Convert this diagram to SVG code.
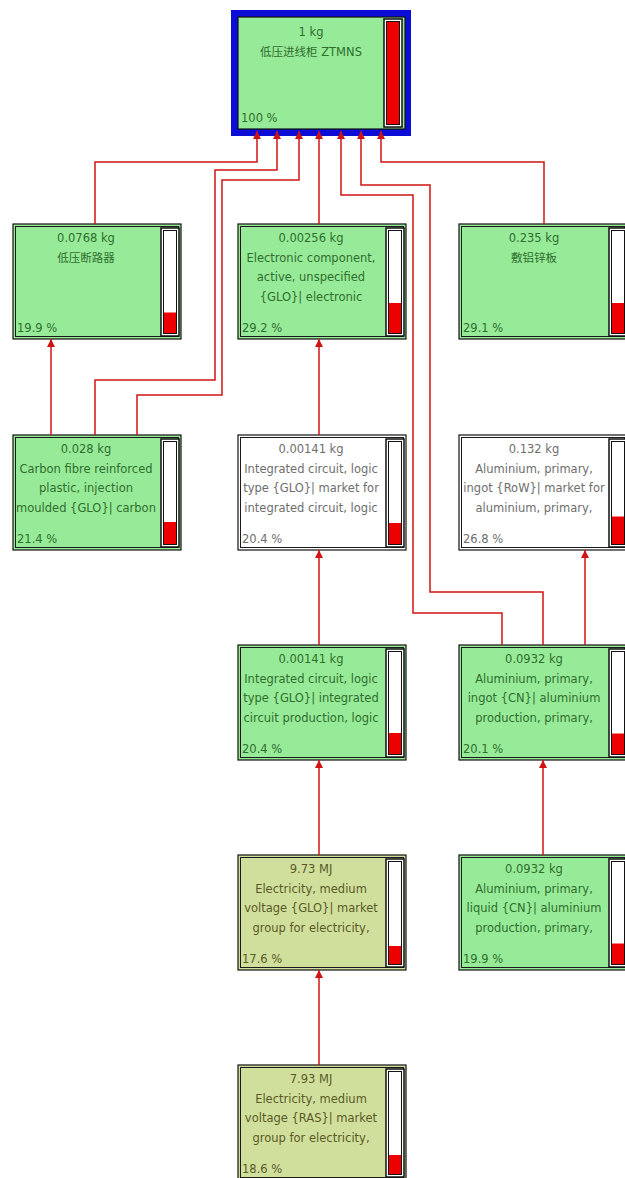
<svg xmlns="http://www.w3.org/2000/svg" width="625" height="1178" viewBox="0 0 625 1178">
<style>
.bg{fill:#ffffff}
.green{fill:#97ea97}
.white{fill:#ffffff}
.olive{fill:#d0df9c}
.frame{stroke:#111111;stroke-width:1.2}
.inner{fill:none;stroke:#1a1a1a;stroke-width:1}
.barO{fill:#ffffff;stroke:#111111;stroke-width:1.5}
.barI{fill:#ffffff;stroke:#111111;stroke-width:1}
.red{fill:#ee0000}
text{font-family:"DejaVu Sans","Noto Sans CJK SC",sans-serif;font-size:11.5px;text-anchor:middle}
.tg{fill:#2f6e2f}
.tw{fill:#6e6e6e}
.to{fill:#5a5a28}
.pct{text-anchor:start}
.conn{fill:none;stroke:#d01414;stroke-width:1.5}
</style>
<defs>
<marker id="arr" viewBox="0 0 8 8" refX="8" refY="4" markerWidth="8" markerHeight="8" markerUnits="userSpaceOnUse" orient="auto">
<path d="M0,0 L8,4 L0,8 z" fill="#d01414"/>
</marker>
<clipPath id="c1"><rect x="15" y="224" width="144" height="115"/></clipPath>
<clipPath id="c2"><rect x="240" y="224" width="144" height="115"/></clipPath>
<clipPath id="c3"><rect x="461" y="224" width="146" height="115"/></clipPath>
<clipPath id="c4"><rect x="15" y="435" width="144" height="115"/></clipPath>
<clipPath id="c5"><rect x="240" y="435" width="144" height="115"/></clipPath>
<clipPath id="c6"><rect x="461" y="435" width="146" height="115"/></clipPath>
<clipPath id="c7"><rect x="240" y="645" width="144" height="115"/></clipPath>
<clipPath id="c8"><rect x="461" y="645" width="146" height="115"/></clipPath>
<clipPath id="c9"><rect x="240" y="855" width="144" height="115"/></clipPath>
<clipPath id="c10"><rect x="461" y="855" width="146" height="115"/></clipPath>
<clipPath id="c11"><rect x="240" y="1065" width="144" height="115"/></clipPath>
</defs>
<rect class="bg" x="0" y="0" width="625" height="1178"/>

<g id="n0">
<rect x="231" y="10" width="180" height="126" fill="#0c0cd8"/>
<rect class="green frame" x="238" y="17" width="167" height="112"/>
<rect class="barO" x="384" y="19" width="18" height="108"/>
<rect class="red" x="386.5" y="21.5" width="13" height="103" stroke="#111" stroke-width="1"/>
<text class="tg" x="311" y="36">1 kg</text>
<text class="tg" x="311" y="56">低压进线柜 ZTMNS</text>
<text class="tg pct" x="241" y="122">100 %</text>
</g>

<g id="n1">
<rect class="green frame" x="13" y="224" width="168" height="115"/>
<rect class="inner" x="15.5" y="226.5" width="163" height="110"/>
<rect class="barO" x="161" y="228" width="18" height="108"/>
<rect class="barI" x="163.5" y="230.5" width="13" height="103"/>
<rect class="red" x="164" y="312.5" width="12" height="20.5"/>
<g clip-path="url(#c1)">
<text class="tg" x="86" y="242">0.0768 kg</text>
<text class="tg" x="86" y="262">低压断路器</text>
</g>
<text class="tg pct" x="17" y="332">19.9 %</text>
</g>

<g id="n2">
<rect class="green frame" x="238" y="224" width="168" height="115"/>
<rect class="inner" x="240.5" y="226.5" width="163" height="110"/>
<rect class="barO" x="386" y="228" width="18" height="108"/>
<rect class="barI" x="388.5" y="230.5" width="13" height="103"/>
<rect class="red" x="389" y="303" width="12" height="30"/>
<g clip-path="url(#c2)">
<text class="tg" x="311" y="242">0.00256 kg</text>
<text class="tg" x="311" y="262">Electronic component,</text>
<text class="tg" x="311" y="281">active, unspecified</text>
<text class="tg" x="311" y="300.5">{GLO}| electronic</text>
</g>
<text class="tg pct" x="242" y="332">29.2 %</text>
</g>

<g id="n3">
<rect class="green frame" x="459" y="224" width="168" height="115"/>
<rect class="inner" x="461.5" y="226.5" width="163" height="110"/>
<rect class="barO" x="609" y="228" width="18" height="108"/>
<rect class="barI" x="611.5" y="230.5" width="13" height="103"/>
<rect class="red" x="612" y="303" width="12" height="30"/>
<g clip-path="url(#c3)">
<text class="tg" x="534" y="242">0.235 kg</text>
<text class="tg" x="534" y="262">敷铝锌板</text>
</g>
<text class="tg pct" x="463" y="332">29.1 %</text>
</g>

<g id="n4">
<rect class="green frame" x="13" y="435" width="168" height="115"/>
<rect class="inner" x="15.5" y="437.5" width="163" height="110"/>
<rect class="barO" x="161" y="439" width="18" height="108"/>
<rect class="barI" x="163.5" y="441.5" width="13" height="103"/>
<rect class="red" x="164" y="522" width="12" height="22"/>
<g clip-path="url(#c4)">
<text class="tg" x="86" y="453">0.028 kg</text>
<text class="tg" x="86" y="472.5">Carbon fibre reinforced</text>
<text class="tg" x="86" y="492">plastic, injection</text>
<text class="tg" x="86" y="511.5">moulded {GLO}| carbon</text>
</g>
<text class="tg pct" x="17" y="543">21.4 %</text>
</g>

<g id="n5">
<rect class="white frame" x="238" y="435" width="168" height="115"/>
<rect class="inner" x="240.5" y="437.5" width="163" height="110"/>
<rect class="barO" x="386" y="439" width="18" height="108"/>
<rect class="barI" x="388.5" y="441.5" width="13" height="103"/>
<rect class="red" x="389" y="523" width="12" height="21"/>
<g clip-path="url(#c5)">
<text class="tw" x="311" y="453">0.00141 kg</text>
<text class="tw" x="311" y="472.5">Integrated circuit, logic</text>
<text class="tw" x="311" y="492">type {GLO}| market for</text>
<text class="tw" x="311" y="511.5">integrated circuit, logic</text>
</g>
<text class="tw pct" x="242" y="543">20.4 %</text>
</g>

<g id="n6">
<rect class="white frame" x="459" y="435" width="168" height="115"/>
<rect class="inner" x="461.5" y="437.5" width="163" height="110"/>
<rect class="barO" x="609" y="439" width="18" height="108"/>
<rect class="barI" x="611.5" y="441.5" width="13" height="103"/>
<rect class="red" x="612" y="516.5" width="12" height="27.5"/>
<g clip-path="url(#c6)">
<text class="tw" x="534" y="453">0.132 kg</text>
<text class="tw" x="534" y="472.5">Aluminium, primary,</text>
<text class="tw" x="534" y="492">ingot {RoW}| market for</text>
<text class="tw" x="534" y="511.5">aluminium, primary,</text>
</g>
<text class="tw pct" x="463" y="543">26.8 %</text>
</g>

<g id="n7">
<rect class="green frame" x="238" y="645" width="168" height="115"/>
<rect class="inner" x="240.5" y="647.5" width="163" height="110"/>
<rect class="barO" x="386" y="649" width="18" height="108"/>
<rect class="barI" x="388.5" y="651.5" width="13" height="103"/>
<rect class="red" x="389" y="733" width="12" height="21"/>
<g clip-path="url(#c7)">
<text class="tg" x="311" y="663">0.00141 kg</text>
<text class="tg" x="311" y="682.5">Integrated circuit, logic</text>
<text class="tg" x="311" y="702">type {GLO}| integrated</text>
<text class="tg" x="311" y="721.5">circuit production, logic</text>
</g>
<text class="tg pct" x="242" y="753">20.4 %</text>
</g>

<g id="n8">
<rect class="green frame" x="459" y="645" width="168" height="115"/>
<rect class="inner" x="461.5" y="647.5" width="163" height="110"/>
<rect class="barO" x="609" y="649" width="18" height="108"/>
<rect class="barI" x="611.5" y="651.5" width="13" height="103"/>
<rect class="red" x="612" y="733.5" width="12" height="20.5"/>
<g clip-path="url(#c8)">
<text class="tg" x="534" y="663">0.0932 kg</text>
<text class="tg" x="534" y="682.5">Aluminium, primary,</text>
<text class="tg" x="534" y="702">ingot {CN}| aluminium</text>
<text class="tg" x="534" y="721.5">production, primary,</text>
</g>
<text class="tg pct" x="463" y="753">20.1 %</text>
</g>

<g id="n9">
<rect class="olive frame" x="238" y="855" width="168" height="115"/>
<rect class="inner" x="240.5" y="857.5" width="163" height="110"/>
<rect class="barO" x="386" y="859" width="18" height="108"/>
<rect class="barI" x="388.5" y="861.5" width="13" height="103"/>
<rect class="red" x="389" y="946" width="12" height="18"/>
<g clip-path="url(#c9)">
<text class="to" x="311" y="873">9.73 MJ</text>
<text class="to" x="311" y="892.5">Electricity, medium</text>
<text class="to" x="311" y="912">voltage {GLO}| market</text>
<text class="to" x="311" y="931.5">group for electricity,</text>
</g>
<text class="to pct" x="242" y="963">17.6 %</text>
</g>

<g id="n10">
<rect class="green frame" x="459" y="855" width="168" height="115"/>
<rect class="inner" x="461.5" y="857.5" width="163" height="110"/>
<rect class="barO" x="609" y="859" width="18" height="108"/>
<rect class="barI" x="611.5" y="861.5" width="13" height="103"/>
<rect class="red" x="612" y="943.5" width="12" height="20.5"/>
<g clip-path="url(#c10)">
<text class="tg" x="534" y="873">0.0932 kg</text>
<text class="tg" x="534" y="892.5">Aluminium, primary,</text>
<text class="tg" x="534" y="912">liquid {CN}| aluminium</text>
<text class="tg" x="534" y="931.5">production, primary,</text>
</g>
<text class="tg pct" x="463" y="963">19.9 %</text>
</g>

<g id="n11">
<rect class="olive frame" x="238" y="1065" width="168" height="115"/>
<rect class="inner" x="240.5" y="1067.5" width="163" height="110"/>
<rect class="barO" x="386" y="1069" width="18" height="108"/>
<rect class="barI" x="388.5" y="1071.5" width="13" height="103"/>
<rect class="red" x="389" y="1155" width="12" height="19"/>
<g clip-path="url(#c11)">
<text class="to" x="311" y="1083">7.93 MJ</text>
<text class="to" x="311" y="1102.5">Electricity, medium</text>
<text class="to" x="311" y="1122">voltage {RAS}| market</text>
<text class="to" x="311" y="1141.5">group for electricity,</text>
</g>
<text class="to pct" x="242" y="1173">18.6 %</text>
</g>

<g id="connectors">
<path class="conn" marker-end="url(#arr)" d="M95,224 V162 H257 V131"/>
<path class="conn" marker-end="url(#arr)" d="M95,435 V380 H215 V170 H277 V131"/>
<path class="conn" marker-end="url(#arr)" d="M137,435 V395 H222 V180 H299 V131"/>
<path class="conn" marker-end="url(#arr)" d="M319,224 V131"/>
<path class="conn" marker-end="url(#arr)" d="M502,645 V613 H413 V195 H341 V131"/>
<path class="conn" marker-end="url(#arr)" d="M543,645 V592 H430 V185 H361 V131"/>
<path class="conn" marker-end="url(#arr)" d="M544,224 V162 H381 V131"/>
<path class="conn" marker-end="url(#arr)" d="M51,435 V339"/>
<path class="conn" marker-end="url(#arr)" d="M319,435 V339"/>
<path class="conn" marker-end="url(#arr)" d="M319,645 V550"/>
<path class="conn" marker-end="url(#arr)" d="M319,855 V760"/>
<path class="conn" marker-end="url(#arr)" d="M319,1065 V970"/>
<path class="conn" marker-end="url(#arr)" d="M585,645 V550"/>
<path class="conn" marker-end="url(#arr)" d="M543,855 V760"/>
</g>
</svg>
